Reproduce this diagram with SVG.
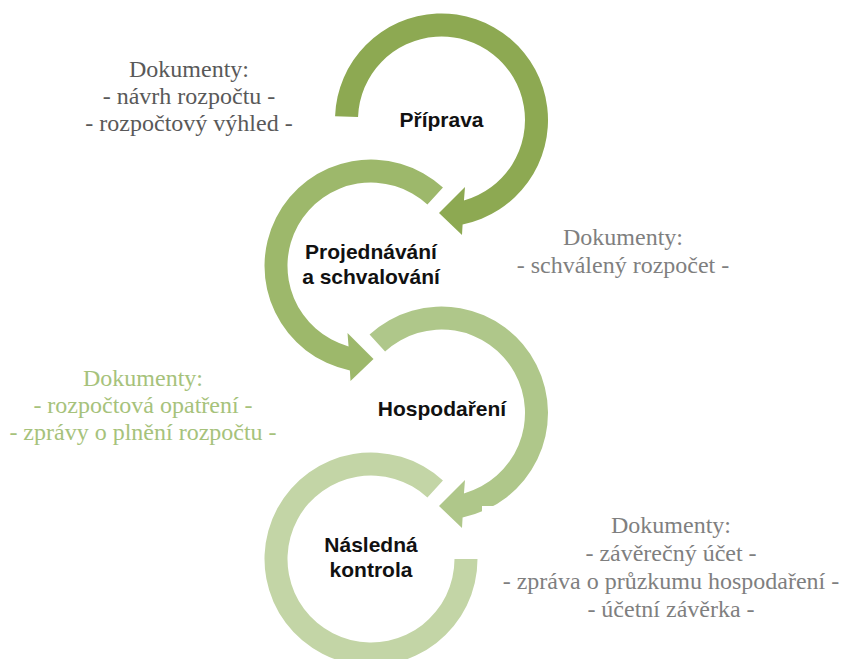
<svg xmlns="http://www.w3.org/2000/svg" width="842" height="659" viewBox="0 0 842 659">
  <style>
    .lbl { font-family: "Liberation Sans", Arial, sans-serif; font-weight: bold; font-size: 21px; fill: #111111; text-anchor: middle; }
    .doc { font-family: "Liberation Serif", "Times New Roman", "DejaVu Serif", serif; font-size: 24px; text-anchor: middle; }
    .g1 { fill: #595959; }
    .g2 { fill: #7f7f7f; }
    .gr { fill: #a6c27b; }
  </style>
  <defs>
    <path id="arrowA" d="M -106.43,-3.72 A 106.5 106.5 0 1 1 21.1,104.4 L 20.5,115 L -2.5,93 L 23.5,67 L 22.45,80.43 A 83.5 83.5 0 1 0 -83.45,-2.91 Z"/>
    <path id="arrowB" d="M -71.95,-78.52 A 106.5 106.5 0 1 1 21.1,104.4 L 20.5,115 L -2.5,93 L 23.5,67 L 22.45,80.43 A 83.5 83.5 0 1 0 -56.41,-61.56 Z"/>
    <path id="arcC" d="M -71.95,-78.52 A 106.5 106.5 0 1 1 -106.5,0 L -83.5,0 A 83.5 83.5 0 1 0 -56.41,-61.56 Z"/>
  </defs>

  <g id="node-priprava">
    <use href="#arrowA" transform="translate(441.5,120)" fill="#8da952"/>
    <text class="lbl" x="441.5" y="127">Příprava</text>
  </g>

  <g id="node-projednavani">
    <use href="#arrowB" transform="translate(371,266) scale(-1,1)" fill="#9db86b"/>
    <text class="lbl" x="371" y="259">Projednávání</text>
    <text class="lbl" x="371" y="284">a schvalování</text>
  </g>

  <g id="node-hospodareni">
    <use href="#arrowB" transform="translate(441.5,413)" fill="#afc78a"/>
    <text class="lbl" x="442" y="416">Hospodaření</text>
  </g>

  <g id="node-kontrola">
    <use href="#arcC" transform="translate(371,559) scale(-1,1)" fill="#c3d5a6"/>
    <text class="lbl" x="371" y="552">Následná</text>
    <text class="lbl" x="371" y="577">kontrola</text>
  </g>

  <g id="connectors"></g>

  <g id="doc-priprava" font-family="Liberation Serif, serif">
    <text class="doc g1" x="189" y="77">Dokumenty:</text>
    <text class="doc g1" x="189" y="104">- návrh rozpočtu -</text>
    <text class="doc g1" x="189" y="131">- rozpočtový výhled -</text>
  </g>

  <g id="doc-projednavani">
    <text class="doc g2" x="623" y="245">Dokumenty:</text>
    <text class="doc g2" x="623" y="273">- schválený rozpočet -</text>
  </g>

  <g id="doc-hospodareni">
    <text class="doc gr" x="143" y="386">Dokumenty:</text>
    <text class="doc gr" x="143" y="413">- rozpočtová opatření -</text>
    <text class="doc gr" x="143" y="440">- zprávy o plnění rozpočtu -</text>
  </g>

  <g id="doc-kontrola">
    <rect x="482" y="506" width="360" height="153" fill="#ffffff"/>
    <text class="doc g2" x="671" y="533">Dokumenty:</text>
    <text class="doc g2" x="671" y="561">- závěrečný účet -</text>
    <text class="doc g2" x="671" y="589">- zpráva o průzkumu hospodaření -</text>
    <text class="doc g2" x="671" y="617">- účetní závěrka -</text>
  </g>
</svg>
